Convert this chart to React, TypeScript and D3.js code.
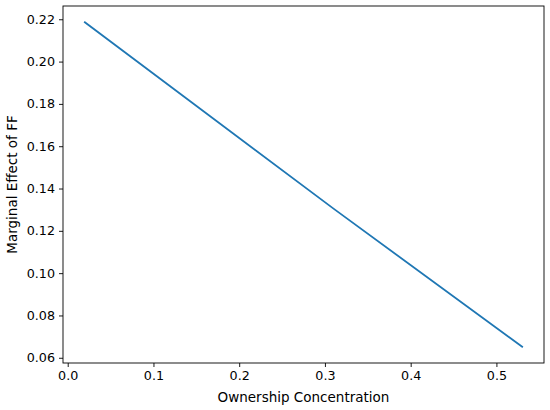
import React, { useRef, useEffect } from "react";
import * as d3 from "d3";

// 所有集中度 (x) と FF の限界効果 (y)
const ownership: number[] = [0.02, 0.31, 0.53];
const marginalEffect: number[] = [0.2186, 0.1305, 0.0652];

const xTicks: number[] = [0.0, 0.1, 0.2, 0.3, 0.4, 0.5];
const yTicks: number[] = [0.06, 0.08, 0.1, 0.12, 0.14, 0.16, 0.18, 0.2, 0.22];

const xLabel = "Ownership Concentration";
const yLabel = "Marginal Effect of FF";

const W = 550;
const H = 410;
const margin = { top: 6, right: 6, bottom: 47, left: 63 };
const font = "DejaVu Sans, sans-serif";

const App: React.FC = () => {
  const svgRef = useRef<SVGSVGElement | null>(null);

  const drawChart = () => {
    d3.select(svgRef.current).selectAll("*").remove();

    const width = W - margin.left - margin.right;
    const height = H - margin.top - margin.bottom;

    const svg = d3
      .select(svgRef.current)
      .attr("width", W)
      .attr("height", H)
      .append("g")
      .attr("transform", `translate(${margin.left},${margin.top})`);

    // matplotlib 風に 5% の余白を付ける
    const xExt = d3.extent(ownership) as [number, number];
    const yExt = d3.extent(marginalEffect) as [number, number];
    const xPad = (xExt[1] - xExt[0]) * 0.05;
    const yPad = (yExt[1] - yExt[0]) * 0.05;

    const x = d3
      .scaleLinear()
      .domain([xExt[0] - xPad, xExt[1] + xPad])
      .range([0, width]);
    const y = d3
      .scaleLinear()
      .domain([yExt[0] - yPad, yExt[1] + yPad])
      .range([height, 0]);

    // X軸
    const xAxis = svg
      .append("g")
      .attr("transform", `translate(0,${height})`)
      .call(
        d3
          .axisBottom(x)
          .tickValues(xTicks)
          .tickFormat(d3.format(".1f"))
          .tickSize(4)
          .tickPadding(4)
      );
    xAxis.select(".domain").remove();

    // Y軸
    const yAxis = svg
      .append("g")
      .call(
        d3
          .axisLeft(y)
          .tickValues(yTicks)
          .tickFormat(d3.format(".2f"))
          .tickSize(4)
          .tickPadding(4)
      );
    yAxis.select(".domain").remove();

    svg
      .selectAll(".tick text")
      .style("font-family", font)
      .style("font-size", "12.7px")
      .attr("fill", "#000");
    svg.selectAll(".tick line").attr("stroke", "#000").attr("stroke-width", 0.9);

    // 線
    const pts = ownership.map((v, i) => [v, marginalEffect[i]] as [number, number]);
    svg
      .append("path")
      .datum(pts)
      .attr("fill", "none")
      .attr("stroke", "#1f77b4")
      .attr("stroke-width", 1.8)
      .attr("stroke-linecap", "square")
      .attr(
        "d",
        d3
          .line<[number, number]>()
          .x((d) => x(d[0]))
          .y((d) => y(d[1]))
      );

    // 枠線
    svg
      .append("rect")
      .attr("x", 0)
      .attr("y", 0)
      .attr("width", width)
      .attr("height", height)
      .attr("fill", "none")
      .attr("stroke", "#000")
      .attr("stroke-width", 0.9);

    // ラベル
    svg
      .append("text")
      .attr("x", width / 2)
      .attr("y", height + 39)
      .attr("text-anchor", "middle")
      .style("font-family", font)
      .style("font-size", "13.5px")
      .text(xLabel);

    svg
      .append("text")
      .attr("transform", `translate(${17 - margin.left},${height / 2}) rotate(-90)`)
      .attr("text-anchor", "middle")
      .style("font-family", font)
      .style("font-size", "13.5px")
      .text(yLabel);
  };

  useEffect(() => {
    drawChart();
  }, []);

  return (
    <svg
      ref={svgRef}
      style={{ position: "absolute", left: 0, top: 0, background: "#fff" }}
    ></svg>
  );
};

export default App;
